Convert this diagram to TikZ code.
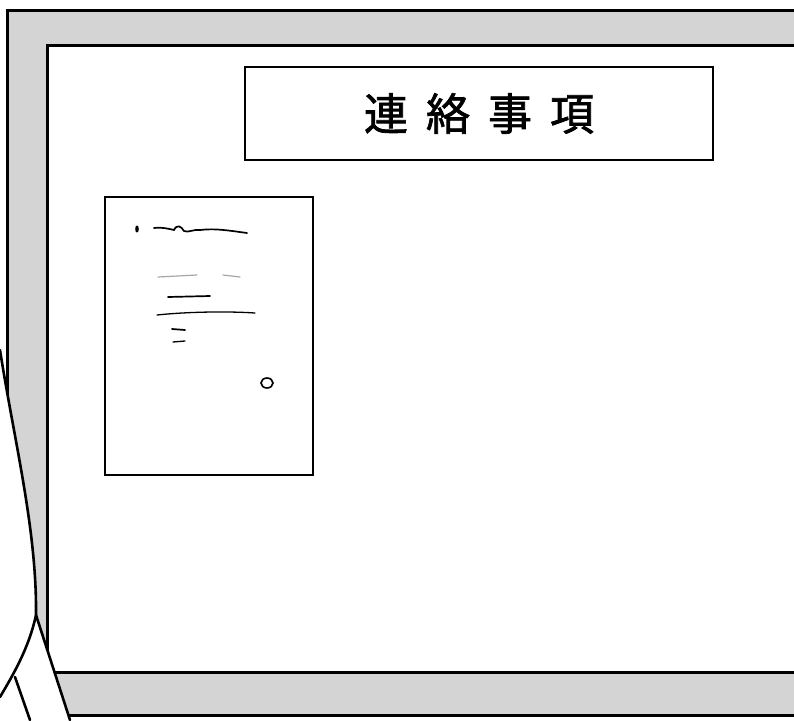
\documentclass[tikz,border=0pt]{standalone}
\usepackage{fontspec}
\newfontfamily\jpfont[FakeBold=1.6]{Noto Sans CJK JP}
\definecolor{hatch}{gray}{0.83}
\begin{document}
\begin{tikzpicture}[x=1pt,y=-1pt,
  frameline/.style={draw=black,line width=3pt},
  titlebox/.style={draw=black,line width=2pt,fill=white,minimum width=468pt,minimum height=93pt,inner sep=0pt},
  paperbox/.style={draw=black,line width=2.4pt,fill=white,minimum width=208pt,minimum height=278pt,inner sep=0pt},
  scrib/.style={draw=black,line width=1.7pt,line cap=round},
  faint/.style={draw=black!35,line width=1.2pt,line cap=round},
  outline/.style={draw=black,line width=2.6pt,line join=round,line cap=round}]
\useasboundingbox (0,0) rectangle (794,720);
\clip (0,0) rectangle (794,720);
\fill[white] (0,0) rectangle (794,720);
% board frame
\filldraw[frameline,fill=hatch] (7,10) rectangle (820,715);
\filldraw[frameline,fill=white] (47,45) rectangle (820,672);
% title
\node[titlebox] (title) at (479,113.5) {\jpfont\fontsize{44pt}{44pt}\selectfont
  \makebox[62pt]{連}\makebox[62pt]{絡}\makebox[62pt]{事}\makebox[62pt]{項}};
% pinned note
\node[paperbox] (note) at (209,336) {};
\fill[black] (137,229) ellipse (1.8pt and 3.6pt);
\draw[scrib] (154,228) .. controls (162,227) and (170,229) .. (174,230)
  .. controls (177,224) and (181,226) .. (184,231)
  .. controls (188,233) and (194,229) .. (200,230)
  .. controls (215,228) and (232,231) .. (247,233);
\draw[faint] (158,277) -- (197,275);
\draw[faint] (223,275) -- (240,277);
\draw[scrib] (168,297) -- (210,296);
\draw[scrib,line width=1.3pt] (157,315) .. controls (185,312) and (225,311) .. (255,313);
\draw[scrib] (172,329) -- (185,330);
\draw[scrib,line width=1.3pt] (173,342) -- (185,341);
\draw[black,line width=1.6pt] (267,383) ellipse (6pt and 5pt);
% figure in the foreground (left)
\coordinate (hairtop) at (0,350);
\coordinate (tip) at (36,615);
\coordinate (hairend) at (0,697);
\coordinate (shoulder) at (70,720);
\coordinate (cstart) at (15,677);
\coordinate (cend) at (30,720);
\fill[white] (hairtop) .. controls (14,440) and (37,530) .. (tip) -- (shoulder) -- (0,720) -- cycle;
\draw[outline] (hairtop) .. controls (14,440) and (37,530) .. (tip)
  .. controls (29,648) and (13,675) .. (hairend);
\draw[outline] (tip) -- (shoulder);
\draw[outline] (cstart) -- (cend);
\end{tikzpicture}
\end{document}
